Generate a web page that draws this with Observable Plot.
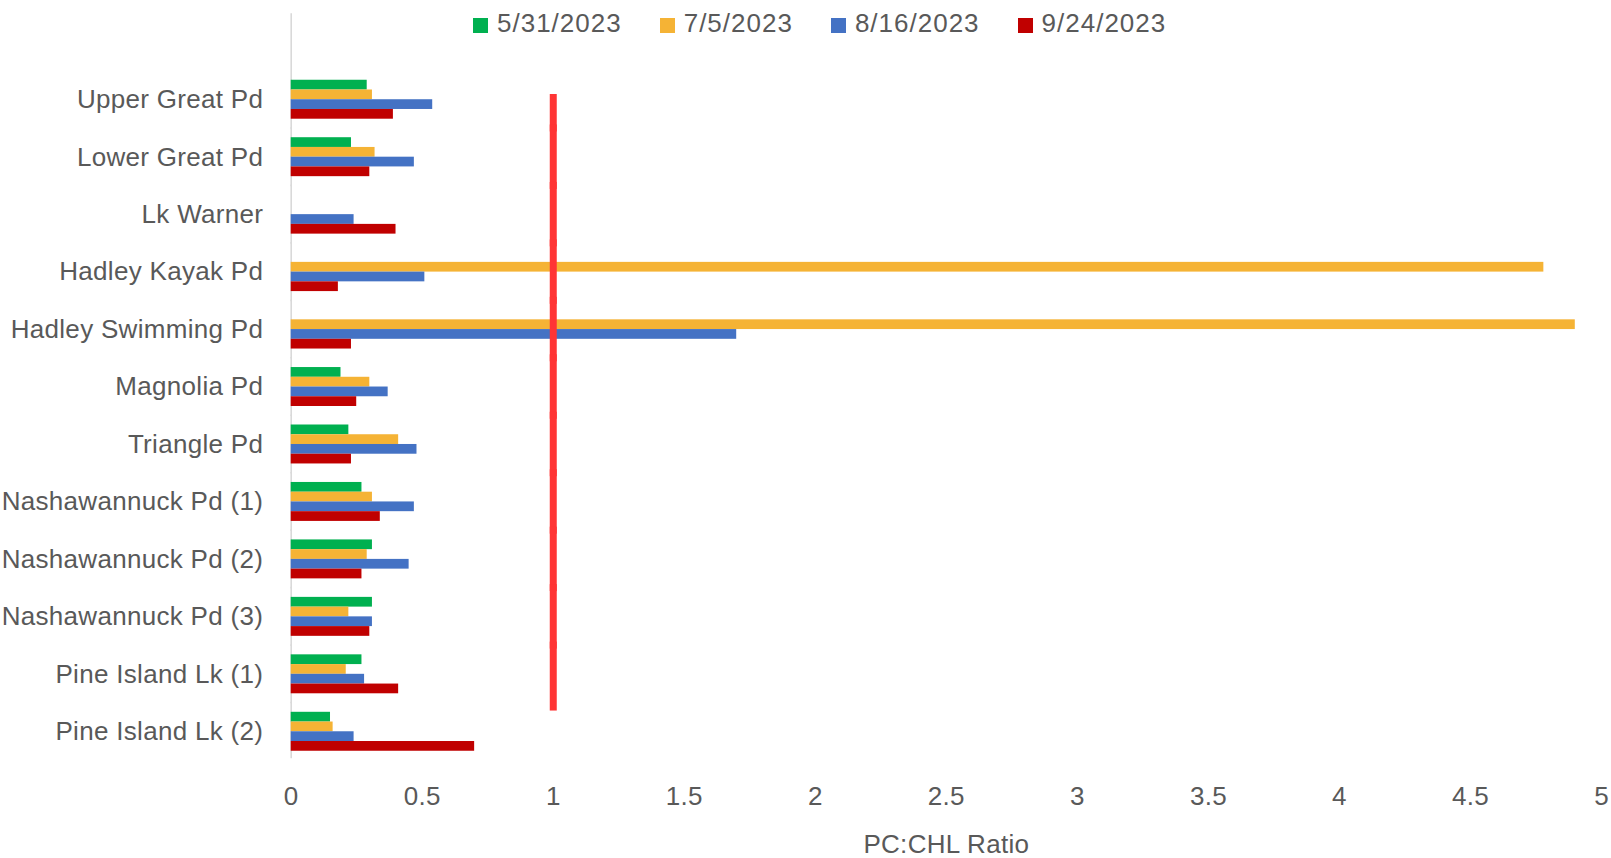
<!DOCTYPE html>
<html><head><meta charset="utf-8">
<script src="https://cdn.jsdelivr.net/npm/d3@7"></script>
<script src="https://cdn.jsdelivr.net/npm/@observablehq/plot@0.6"></script>
<style>
body{margin:0;background:#fff;font-family:"Liberation Sans",Arial,sans-serif;}
#wrap{position:relative;width:1611px;height:858px;overflow:hidden;}
#legend{position:absolute;left:473px;top:8px;display:flex;align-items:center;font-size:26px;color:#595959;line-height:30px;letter-spacing:1px;}
.item{display:flex;align-items:center;margin-right:38px;}
.sw{width:15px;height:15px;margin-right:9px;margin-top:4px;}
#chart{position:absolute;left:0;top:0;}
</style></head><body>
<div id="wrap"><div id="chart"></div><div id="legend"></div></div>
<script>
const categories = ["Upper Great Pd","Lower Great Pd","Lk Warner","Hadley Kayak Pd","Hadley Swimming Pd","Magnolia Pd","Triangle Pd","Nashawannuck Pd (1)","Nashawannuck Pd (2)","Nashawannuck Pd (3)","Pine Island Lk (1)","Pine Island Lk (2)"];
const seriesNames = ["5/31/2023","7/5/2023","8/16/2023","9/24/2023"];
const seriesColors = ["#00b050","#f5b335","#4472c4","#c00000"];
const s0531 = [0.29, 0.23, null, null, null, 0.19, 0.22, 0.27, 0.31, 0.31, 0.27, 0.15];
const s0705 = [0.31, 0.32, null, 4.78, 4.90, 0.30, 0.41, 0.31, 0.29, 0.22, 0.21, 0.16];
const s0816 = [0.54, 0.47, 0.24, 0.51, 1.70, 0.37, 0.48, 0.47, 0.45, 0.31, 0.28, 0.24];
const s0924 = [0.39, 0.30, 0.40, 0.18, 0.23, 0.25, 0.23, 0.34, 0.27, 0.30, 0.41, 0.70];
const xTicks = [0, 0.5, 1, 1.5, 2, 2.5, 3, 3.5, 4, 4.5, 5];
const xLabel = "PC:CHL Ratio";
const refValue = 1;
const refFirst = "Upper Great Pd";
const refLast = "Pine Island Lk (1)";

const seriesValues = [s0531, s0705, s0816, s0924];
const rows = [];
categories.forEach((c, i) => seriesNames.forEach((s, j) => {
  const v = seriesValues[j][i];
  if (v != null) rows.push({category: c, series: s, value: v});
}));
const iFirst = categories.indexOf(refFirst), iLast = categories.indexOf(refLast);
const refMiddle = categories.slice(iFirst + 1, iLast);
const nCat = categories.length;

const refStyle = {x: () => refValue, fy: d => d, stroke: "#ff3535", strokeWidth: 7, strokeLinecap: "square"};
const axisLineStyle = {x: () => 0, fy: d => d, stroke: "#d9d9d9", strokeWidth: 1.6, strokeLinecap: "square"};

const plot = Plot.plot({
  width: 1611, height: 858,
  marginLeft: 290.7, marginRight: 10, marginTop: 13, marginBottom: 98,
  style: {fontFamily: '"Liberation Sans", Arial, sans-serif', fontSize: "26px", color: "#595959", background: "#fff", overflow: "visible", letterSpacing: "0.3px"},
  x: {domain: [0, 5]},
  y: {domain: seriesNames, paddingInner: 0, paddingOuter: 0.95, round: false, axis: null},
  fy: {domain: categories, paddingInner: 0, paddingOuter: 0, round: false, insetTop: 57.5},
  color: {domain: seriesNames, range: seriesColors},
  marks: [
    Plot.ruleX([categories[0]], {...axisLineStyle, insetTop: -56.5}),
    Plot.ruleX(categories.slice(1, nCat - 1), axisLineStyle),
    Plot.ruleX([categories[nCat - 1]], {...axisLineStyle, insetBottom: 2.5}),
    Plot.barX(rows, {x: "value", y: "series", fy: "category", fill: "series"}),
    Plot.ruleX([refFirst], {...refStyle, insetTop: 27}),
    Plot.ruleX(refMiddle, refStyle),
    Plot.ruleX([refLast], {...refStyle, insetBottom: -4.5}),
    Plot.axisFy({anchor: "left", tickSize: 0, tickPadding: 28, label: null, fontSize: 26}),
    Plot.axisX({ticks: xTicks, tickFormat: d => String(d), tickSize: 0, tickPadding: 26, label: xLabel, labelAnchor: "center", labelArrow: "none", labelOffset: 92, fontSize: 26})
  ]
});
document.getElementById("chart").append(plot);

const legend = document.getElementById("legend");
seriesNames.forEach((s, j) => {
  const item = document.createElement("div");
  item.className = "item";
  const sw = document.createElement("div");
  sw.className = "sw";
  sw.style.background = seriesColors[j];
  const t = document.createElement("span");
  t.textContent = s;
  item.append(sw, t);
  legend.append(item);
});
</script>
</body></html>
